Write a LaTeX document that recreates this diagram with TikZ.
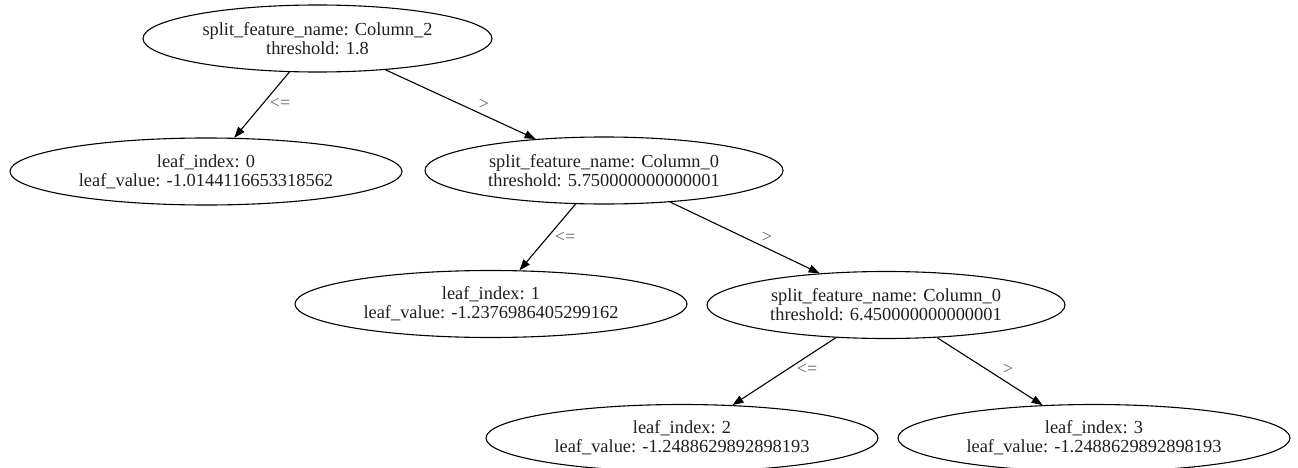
\documentclass[tikz,border=0pt]{standalone}
\usepackage{fontspec}
\setmainfont{Liberation Serif}
\usetikzlibrary{shapes.geometric,arrows.meta}
\begin{document}
\begin{tikzpicture}[x=1pt,y=-1pt,
  tnode/.style={ellipse, draw, line width=1.1pt, inner sep=0pt, minimum height=67pt,
    align=center, text=black!88, font=\fontsize{18.4}{19}\selectfont},
  leafnode/.style={tnode, minimum width=392pt},
  splitnode/.style={tnode, minimum width=358pt},
  conn/.style={line width=1.1pt, -{Triangle[length=11pt,width=8pt]}},
  lbl/.style={text=black!62, inner sep=0pt, font=\fontsize{18}{19}\selectfont}]
\useasboundingbox (0,0) rectangle (1298,468);
\node[tnode, minimum width=349pt] (root) at (317.5,38.5) {split\_feature\_name: Column\_2\\threshold: 1.8};
\node[leafnode] (leaf0) at (206,171.5) {leaf\_index: 0\\leaf\_value: -1.0144116653318562};
\node[splitnode] (split1) at (604,170.5) {split\_feature\_name: Column\_0\\threshold: 5.750000000000001};
\node[leafnode] (leaf1) at (491,304) {leaf\_index: 1\\leaf\_value: -1.2376986405299162};
\node[splitnode] (split2) at (886,305) {split\_feature\_name: Column\_0\\threshold: 6.450000000000001};
\node[leafnode] (leaf2) at (682,438) {leaf\_index: 2\\leaf\_value: -1.2488629892898193};
\node[leafnode] (leaf3) at (1094,438) {leaf\_index: 3\\leaf\_value: -1.2488629892898193};
\draw[conn] (root) -- (leaf0);
\draw[conn] (root) -- (split1);
\draw[conn] (split1) -- (leaf1);
\draw[conn] (split1) -- (split2);
\draw[conn] (split2) -- (leaf2);
\draw[conn] (split2) -- (leaf3);
\node[lbl] (l1) at (280,103.5) {<=};
\node[lbl] (l2) at (484,104) {>};
\node[lbl] (l3) at (565,237) {<=};
\node[lbl] (l4) at (767,237) {>};
\node[lbl] (l5) at (807,369) {<=};
\node[lbl] (l6) at (1008,369) {>};
\end{tikzpicture}
\end{document}
